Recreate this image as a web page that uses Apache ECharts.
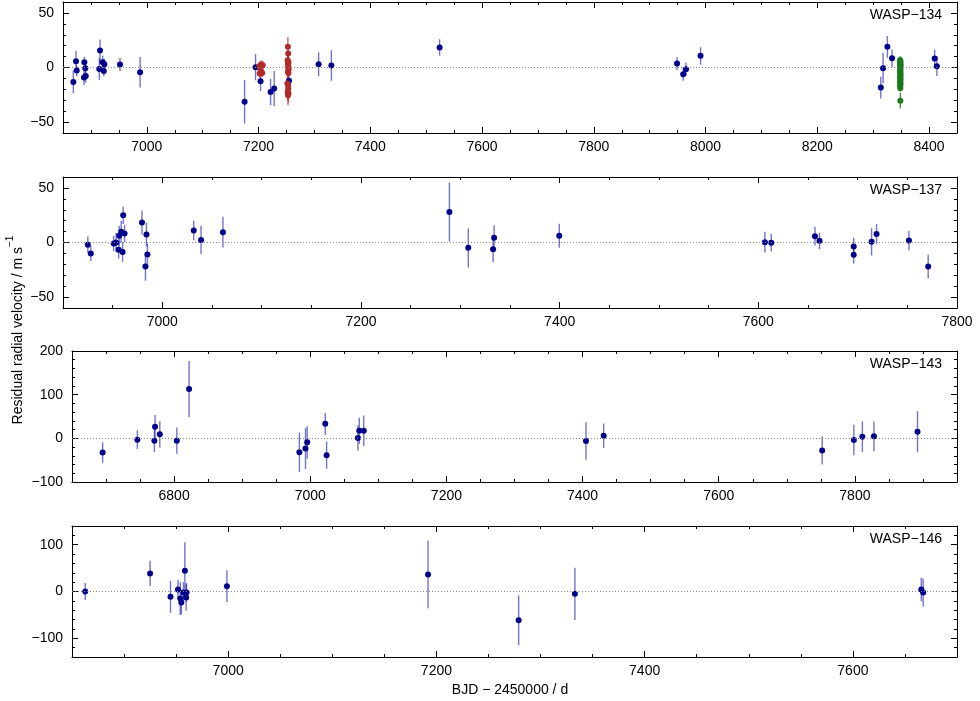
<!DOCTYPE html>
<html><head><meta charset="utf-8">
<script src="https://cdn.jsdelivr.net/npm/echarts@6/dist/echarts.min.js"></script>
<style>html,body{margin:0;padding:0;background:#fff}#c{width:980px;height:701px}</style>
</head><body><div id="c"></div>
<script>
// ---------------- DATA ----------------
// WASP-134 (blue: CORALIE, red & green: in-transit sequences)
const w134BlueT = [6868.5, 6873.3, 6874.5, 6888.2, 6890, 6887.6, 6890.7, 6916.3, 6915, 6921, 6924, 6923, 6952, 6988,
  7175, 7194.6, 7203.6, 7221.5, 7228, 7254.5, 7307.5, 7330.3, 7524,
  7949, 7960, 7965, 7991, 8313.6, 8317.7, 8325.4, 8333.8, 8410, 8414];
const w134BlueV = [-13.2, 5.8, -2.8, 4.9, -0.6, -9.2, -7.7, 15.6, -1.3, 4.9, 3.0, -3.1, 2.8, -4.3,
  -31.3, 0.3, -12.6, -22.4, -19.3, -12.2, 3.0, 1.8, 18.4,
  3.7, -6.1, -1.5, 10.7, -18.4, -0.6, 18.9, 8.5, 8.3, 1.2];
const w134BlueE = [10.5, 9.5, 5, 5, 5, 7, 6, 10, 10, 6, 5, 5, 6, 14,
  20, 12, 9, 12, 16, 5, 11, 14, 7.5,
  6, 6, 6, 8, 10, 14, 10, 8, 8, 9];
const w134RedT = [7201.4, 7204.6, 7207.5, 7203, 7205, 7202, 7206.5,
  7252.5, 7253, 7252, 7253.5, 7252.8, 7253.2, 7252.4, 7253.8, 7252.6, 7253.4, 7251.5, 7252.9, 7253.1, 7252.2, 7253.6, 7252.7];
const w134RedV = [1.2, 2.7, 2.1, -1.0, -4.0, -5.5, -5.0,
  18.9, 12.9, 6.7, 5.1, 3.7, 2.1, 0.6, -1.8, -4.0, -5.0, -14.7, -16.3, -19.3, -22.4, -23.9, -25.5];
const w134RedE = [4, 4, 4, 4, 4, 4, 4,
  9, 7, 6, 6, 6, 6, 6, 6, 6, 6, 7, 7, 7, 8, 8, 9];
const w134GreenT = [8348.2, 8348.5, 8348.8, 8348.3, 8348.6, 8348.9, 8348.4, 8348.7, 8348.5, 8348.2, 8348.8, 8348.6,
  8348.3, 8348.9, 8348.5, 8348.7, 8348.4, 8348.6, 8348.8, 8348.3, 8348.5, 8348.7, 8348.6, 8348.4, 8348.5, 8348.6];
const w134GreenV = [6.8, 5.9, 5.2, 4.1, 3.3, 2.6, 1.4, 0.7, -0.5, -1.6, -2.4, -3.8, -4.6, -5.9, -7.1, -8.0,
  -9.3, -10.2, -11.5, -12.4, -13.6, -14.8, -15.7, -17.2, -18.9, -30.4];
const w134GreenE = [3.5, 3, 3, 3, 3, 3, 3, 3, 3, 3, 3, 3, 3, 3, 3, 3, 3, 3, 3, 3, 3, 3, 3, 3, 3, 7];

// WASP-137
const w137T = [6925, 6928, 6951, 6953.5, 6956, 6956.6, 6958.6, 6960, 6960.6, 6962, 6979.5, 6984, 6985, 6983,
  7031.6, 7039, 7061, 7289, 7308, 7333, 7334, 7399.6, 7606.6, 7613, 7657, 7661.6, 7696, 7696, 7714, 7719, 7751.6, 7771];
const w137V = [-2.1, -10, -0.9, 0, -6.7, 6.1, 9.8, -8.8, 25, 8.2, 18.3, 7.3, -11, -22,
  11, 2.4, 9.5, 28, -4.9, -6.1, 4.3, 6.1, 0.3, -0.3, 5.8, 1.5, -3.7, -11.3, 0.6, 7.9, 1.8, -22];
const w137E = [7.5, 7, 7, 9, 8, 9, 10, 9, 8, 8, 11, 11, 10, 13,
  9, 13, 14, 27, 18, 12, 11.5, 11, 9.5, 8, 8.5, 7.5, 8, 8, 12.5, 9, 9, 11];

// WASP-143
const w143T = [6695, 6746, 6772, 6771, 6779, 6804, 6822, 6984, 6993, 6995.5, 7022, 7024, 7070, 7072, 7078.6,
  7405, 7431, 7752, 7798.5, 7811, 7828, 7892];
const w143V = [-32.6, -3, 26.5, -5.3, 9.1, -5.3, 113, -31.8, -23.5, -9.1, 33.3, -38.6, 0.8, 17.4, 17.4,
  -6, 6, -28, -3.8, 3.8, 4.5, 15];
const w143E = [23.5, 21.5, 27, 26, 30, 30, 64, 45, 47, 37, 25, 31, 29, 30, 35,
  43, 28, 32, 35, 35, 34, 47];

// WASP-146
const w146T = [6862.7, 6925, 6944.6, 6951.8, 6954, 6955, 6957, 6958.4, 6959.6, 6960, 6998.8, 7192, 7279, 7333, 7665.7, 7667.5];
const w146V = [0, 38.6, -11.4, 4.3, -15, -23.6, -2, 44.3, -12.9, -2, 11.4, 36.4, -61.4, -5, 4.3, -2];
const w146E = [18, 27, 34, 21, 35, 25, 22, 61, 28, 20, 34, 72, 53, 56, 25, 30];

// Tick labels
const p1XLabels = [7000, 7200, 7400, 7600, 7800, 8000, 8200, 8400];
const p2XLabels = [7000, 7200, 7400, 7600, 7800];
const p3XLabels = [6800, 7000, 7200, 7400, 7600, 7800];
const p4XLabels = [7000, 7200, 7400, 7600];
const p1YLabels = [-50, 0, 50];
const p2YLabels = [-50, 0, 50];
const p3YLabels = [-100, 0, 100, 200];
const p4YLabels = [-100, 0, 100];
const panelNames = ['WASP\u2212134', 'WASP\u2212137', 'WASP\u2212143', 'WASP\u2212146'];

// ---------------- LAYOUT / STYLE ----------------
const FONT = 'Liberation Sans, Arial, Helvetica, sans-serif';
const FS = 14;
const panels = [
  { grid: { left: 63, top: 2, width: 894, height: 131 }, x: [6850, 8450, 50], y: [-60, 60, 10], xl: p1XLabels, yl: p1YLabels,
    sets: [['b', w134BlueT, w134BlueV, w134BlueE], ['r', w134RedT, w134RedV, w134RedE], ['g', w134GreenT, w134GreenV, w134GreenE]] },
  { grid: { left: 63, top: 177, width: 894, height: 131 }, x: [6900, 7800, 50], y: [-60, 60, 10], xl: p2XLabels, yl: p2YLabels,
    sets: [['b', w137T, w137V, w137E]] },
  { grid: { left: 72, top: 351, width: 885, height: 131 }, x: [6650, 7950, 50], y: [-100, 200, 20], xl: p3XLabels, yl: p3YLabels,
    sets: [['b', w143T, w143V, w143E]] },
  { grid: { left: 72, top: 526, width: 885, height: 131 }, x: [6850, 7700, 50], y: [-140, 140, 20], xl: p4XLabels, yl: p4YLabels,
    sets: [['b', w146T, w146V, w146E]] }
];
const colors = {
  b: { pt: '#00008b', bar: 'rgba(40,40,175,0.65)' },
  r: { pt: '#b22a2a', bar: 'rgba(190,45,45,0.75)' },
  g: { pt: '#1a7a1a', bar: 'rgba(30,120,30,0.85)' }
};
const fmt = v => String(v).replace('-', '\u2212');

const grids = [], xAxes = [], yAxes = [], series = [], graphics = [];

function axisSet(dim, gi, range, majors, list) {
  const posA = dim === 'x' ? 'bottom' : 'left';
  const posB = dim === 'x' ? 'top' : 'right';
  const base = { type: 'value', gridIndex: gi, min: range[0], max: range[1], splitLine: { show: false } };
  const lineOn = { show: true, onZero: false, lineStyle: { color: '#000', width: 1 } };
  const lineOff = { show: false, onZero: false };
  [posA, posB].forEach((pos, k) => {
    // minor ticks + frame line
    list.push(Object.assign({}, base, {
      position: pos, interval: range[2], axisLine: lineOn,
      axisTick: { show: true, inside: true, length: 3, lineStyle: { color: '#000', width: 1 } },
      axisLabel: { show: false }
    }));
    // major ticks (+ labels on bottom/left)
    list.push(Object.assign({}, base, {
      position: pos, axisLine: lineOff,
      axisTick: { show: true, inside: true, length: 6, customValues: majors, lineStyle: { color: '#000', width: 1 } },
      axisLabel: { show: k === 0, customValues: majors, formatter: fmt, fontFamily: FONT, fontSize: FS, color: '#000',
        margin: dim === 'x' ? 7 : 9 }
    }));
  });
}

panels.forEach((p, gi) => {
  grids.push(Object.assign({ containLabel: false, outerBoundsMode: 'none' }, p.grid));
  const xi = xAxes.length, yi = yAxes.length;
  axisSet('x', gi, p.x, p.xl, xAxes);
  axisSet('y', gi, p.y, p.yl, yAxes);
  p.sets.forEach(([c, T, V, E], si) => {
    const data = T.map((t, i) => [t, V[i], E[i]]);
    const col = colors[c];
    const s = {
      type: 'custom', xAxisIndex: xi, yAxisIndex: yi, z: 2, clip: true,
      dimensions: ['t', 'v', 'e'], encode: { x: 0, y: 1 },
      data: data,
      renderItem: (params, api) => {
        const x = api.value(0), y = api.value(1), e = api.value(2);
        const a = api.coord([x, y + e]), b = api.coord([x, y - e]);
        return { type: 'line', shape: { x1: a[0], y1: a[1], x2: b[0], y2: b[1] },
          style: { stroke: col.bar, lineWidth: 1.4 } };
      },
      silent: true, animation: false
    };
    if (si === 0) {
      s.markLine = { silent: true, symbol: 'none', animation: false, label: { show: false },
        lineStyle: { color: '#888', type: [1, 2], width: 1 }, data: [{ yAxis: 0 }] };
    }
    series.push(s);
    series.push({
      type: 'scatter', xAxisIndex: xi, yAxisIndex: yi, z: 3,
      data: data.map(d => [d[0], d[1]]), symbol: 'circle', symbolSize: 6,
      itemStyle: { color: col.pt, opacity: 1 }, silent: true, animation: false
    });
  });
  graphics.push({ type: 'text', x: 942, y: p.grid.top + 13,
    style: { text: panelNames[gi], font: FS + 'px ' + FONT, fill: '#000', textAlign: 'right', textVerticalAlign: 'middle' } });
});

graphics.push({ type: 'text', x: 510, y: 690,
  style: { text: 'BJD \u2212 2450000 / d', font: FS + 'px ' + FONT, fill: '#000', textAlign: 'center', textVerticalAlign: 'middle' } });
graphics.push({ type: 'text', x: 15, y: 330, rotation: Math.PI / 2,
  style: { text: '{a|Residual radial velocity / m s}{b|\u22121}', textAlign: 'center', textVerticalAlign: 'middle',
    rich: { a: { fontFamily: FONT, fontSize: FS, fill: '#000', color: '#000', verticalAlign: 'bottom', lineHeight: 20 },
            b: { fontFamily: FONT, fontSize: 10, fill: '#000', color: '#000', verticalAlign: 'top', lineHeight: 20 } } } });

const chart = echarts.init(document.getElementById('c'), null, { renderer: 'canvas' });
chart.setOption({
  animation: false, backgroundColor: '#fff',
  grid: grids, xAxis: xAxes, yAxis: yAxes, series: series, graphic: graphics
});
</script></body></html>
